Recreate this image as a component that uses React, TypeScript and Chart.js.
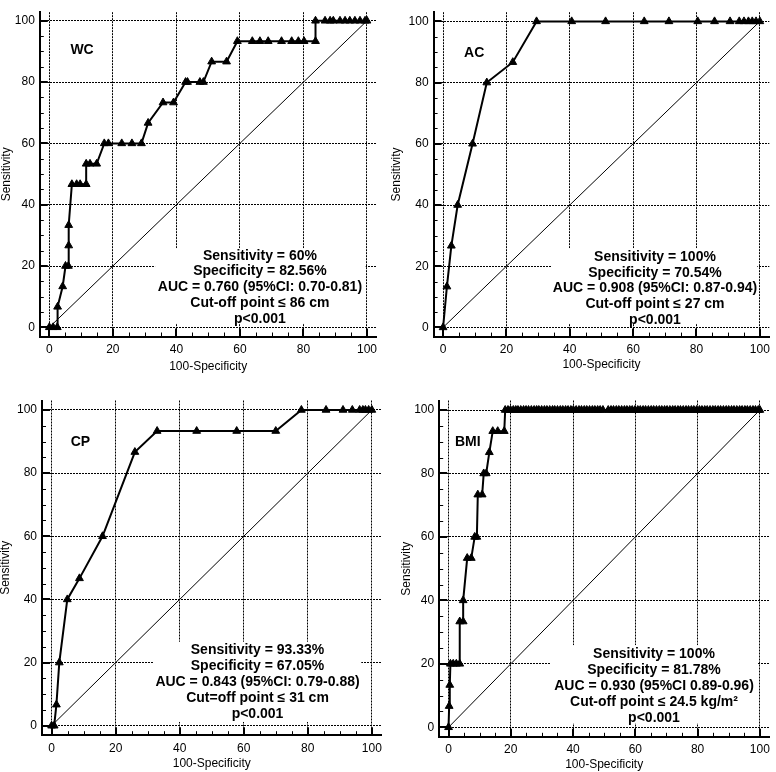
import React, { useEffect, useRef } from "react";
import { Chart, registerables } from "chart.js";

Chart.register(...registerables);

const FONT = "'Liberation Sans', Arial, Helvetica, sans-serif";

// tick values
const majorTicks = [0, 20, 40, 60, 80, 100];
const minorTicks = [5, 10, 15, 25, 30, 35, 45, 50, 55, 65, 70, 75, 85, 90, 95];

// WC
const wcFpr = [0, 1.2, 2.5, 2.6, 4.2, 5.1, 6.0, 6.1, 6.1, 7.1, 8.6, 9.7, 11.6, 11.6, 12.8, 14.9, 17.3, 18.6, 22.8, 26.0, 29.0, 31.1, 35.8, 39.1, 42.9, 43.5, 47.4, 48.5, 51.1, 55.8, 59.2, 63.9, 66.3, 68.9, 73.1, 76.3, 78.4, 80.2, 83.8, 83.8, 86.8, 88.4, 89.4, 91.5, 93.1, 94.6, 96.2, 97.8, 99.4, 100];
const wcSens = [0, 0, 0, 6.67, 13.33, 20, 20, 26.67, 33.33, 46.67, 46.67, 46.67, 46.67, 53.33, 53.33, 53.33, 60, 60, 60, 60, 60, 66.67, 73.33, 73.33, 80, 80, 80, 80, 86.67, 86.67, 93.33, 93.33, 93.33, 93.33, 93.33, 93.33, 93.33, 93.33, 93.33, 100, 100, 100, 100, 100, 100, 100, 100, 100, 100, 100];

// AC
const acFpr = [0, 1.2, 2.6, 4.6, 9.3, 13.8, 22.0, 29.5, 40.6, 51.3, 63.5, 71.3, 80.4, 85.7, 90.6, 93.5, 95.0, 96.4, 97.6, 98.8, 100];
const acSens = [0, 13.33, 26.67, 40, 60, 80, 86.67, 100, 100, 100, 100, 100, 100, 100, 100, 100, 100, 100, 100, 100, 100];

// CP
const cpFpr = [0, 0.8, 1.5, 2.4, 4.9, 8.7, 15.9, 26.0, 32.95, 45.3, 57.8, 70.0, 78.0, 85.7, 91.0, 93.9, 96.2, 97.2, 98.0, 99.0, 100];
const cpSens = [0, 0, 6.67, 20, 40, 46.67, 60, 86.67, 93.33, 93.33, 93.33, 93.33, 100, 100, 100, 100, 100, 100, 100, 100, 100];

// BMI (rising part, then the plateau at 100)
const bmiFpr = [0, 0.2, 0.4, 0.6, 1.5, 2.5, 3.6, 3.6, 4.7, 4.7, 6.0, 7.3, 8.4, 9.1, 9.4, 10.8, 11.3, 12.1, 13.1, 14.2, 15.8, 17.9];
const bmiSens = [0, 6.67, 13.33, 20, 20, 20, 20, 33.33, 33.33, 40, 53.33, 53.33, 60, 60, 73.33, 73.33, 80, 80, 86.67, 93.33, 93.33, 93.33];
const bmiPlateauFpr = [18.2, 19.1, 19.9, 20.8, 21.6, 22.3, 23.2, 24.1, 24.9, 25.7, 26.6, 27.5, 28.3, 29.0, 29.9, 30.8, 31.6, 32.5, 33.4, 34.1, 35.0, 35.9, 36.7, 37.6, 38.4, 39.3, 40.1, 41.0, 41.9, 42.7, 43.6, 44.4, 45.3, 46.2, 47.0, 47.9, 48.7, 49.6, 51.3, 52.2, 53.0, 53.9, 54.7, 55.6, 56.5, 57.3, 58.2, 59.0, 59.9, 60.8, 61.6, 62.5, 63.3, 64.2, 65.1, 65.9, 66.8, 67.7, 68.5, 69.4, 70.2, 71.1, 72.0, 72.8, 73.7, 74.5, 75.4, 76.3, 77.1, 78.0, 78.8, 79.7, 80.6, 81.4, 82.3, 83.1, 84.0, 84.9, 85.7, 86.6, 87.4, 88.3, 89.2, 90.0, 90.9, 91.7, 92.6, 93.5, 94.3, 95.2, 96.0, 96.9, 97.8, 98.6, 99.5, 100];
const bmiPlateauSens = 100;

const diagonal = [0, 100];

const wcText = ["Sensitivity = 60%", "Specificity = 82.56%", "AUC = 0.760 (95%CI: 0.70-0.81)", "Cut-off point \u2264 86 cm", "p<0.001"];
const acText = ["Sensitivity = 100%", "Specificity = 70.54%", "AUC = 0.908 (95%CI: 0.87-0.94)", "Cut-off point \u2264 27 cm", "p<0.001"];
const cpText = ["Sensitivity = 93.33%", "Specificity = 67.05%", "AUC = 0.843 (95%CI: 0.79-0.88)", "Cut=off point \u2264 31 cm", "p<0.001"];
const bmiText = ["Sensitivity = 100%", "Specificity = 81.78%", "AUC = 0.930 (95%CI 0.89-0.96)", "Cut-off point \u2264 24.5 kg/m\u00B2", "p<0.001"];

const xTitle = "100-Specificity";
const yTitle = "Sensitivity";

type PanelCfg = {
  name: string;
  points: { x: number; y: number }[];
  text: string[];
  left: number; top: number; width: number; height: number;
  ca: { l: number; r: number; t: number; b: number };
  xTitleY: number;
  yMax: number;
  box: [number, number, number, number];
  textX: number; textY: number; textGap: number;
  labelX: number; labelY: number;
};

const zip = (xs: number[], ys: number[]) => xs.map((x, i) => ({ x, y: ys[i] }));

const panels: PanelCfg[] = [
  {
    name: "WC", points: zip(wcFpr, wcSens), text: wcText,
    left: -1, top: 0, width: 388, height: 380,
    ca: { l: 39.8, r: 376.5, t: 0, b: 336.5 }, xTitleY: 366.7, yMax: 102.8,
    box: [33.3, 99.6, 1.2, 25.8], textX: 66.3, textY: 23.3, textGap: 15.75, labelX: 10.3, labelY: 90.3,
  },
  {
    name: "AC", points: zip(acFpr, acSens), text: acText,
    left: 389, top: 0, width: 387, height: 380,
    ca: { l: 433.6, r: 775.7, t: 6.7, b: 336.6 }, xTitleY: 365, yMax: 103,
    box: [34.1, 99.2, 1.2, 25.9], textX: 66.9, textY: 22.9, textGap: 15.65, labelX: 9.8, labelY: 89.7,
  },
  {
    name: "CP", points: zip(cpFpr, cpSens), text: cpText,
    left: -2, top: 385, width: 390, height: 387,
    ca: { l: 42, r: 385.4, t: 400.5, b: 735.2 }, xTitleY: 764, yMax: 103,
    box: [31.9, 96.7, 1.2, 26.6], textX: 64.3, textY: 23.9, textGap: 16, labelX: 9, labelY: 89.8,
  },
  {
    name: "BMI",
    points: zip(bmiFpr, bmiSens).concat(bmiPlateauFpr.map((x) => ({ x, y: bmiPlateauSens }))),
    text: bmiText,
    left: 399, top: 385, width: 377, height: 387,
    ca: { l: 439.2, r: 773.5, t: 400.5, b: 736.8 }, xTitleY: 765, yMax: 103,
    box: [32.9, 99.3, 1.2, 25.9], textX: 66, textY: 23.2, textGap: 16, labelX: 6.2, labelY: 89.8,
  },
];

function makeDecor(p: PanelCfg) {
  return {
    id: "decor" + p.name,
    beforeDatasetsDraw(chart: any) {
      const { ctx, chartArea } = chart;
      const x = chart.scales.x;
      const y = chart.scales.y;
      ctx.save();
      // white box behind the statistics text
      const bx1 = x.getPixelForValue(p.box[0]);
      const bx2 = x.getPixelForValue(p.box[1]);
      const by1 = y.getPixelForValue(p.box[3]);
      const by2 = y.getPixelForValue(p.box[2]);
      ctx.fillStyle = "#fff";
      ctx.fillRect(bx1, by1, bx2 - bx1, by2 - by1);
      // inward tick marks
      ctx.strokeStyle = "#000";
      const drawTicks = (vals: number[], len: number, w: number) => {
        ctx.lineWidth = w;
        const off = w % 2 === 1 ? 0.5 : 0;
        vals.forEach((v) => {
          const px = Math.round(x.getPixelForValue(v)) + off;
          ctx.beginPath();
          ctx.moveTo(px, chartArea.bottom);
          ctx.lineTo(px, chartArea.bottom - len);
          ctx.stroke();
          const py = Math.round(y.getPixelForValue(v)) + off;
          ctx.beginPath();
          ctx.moveTo(chartArea.left, py);
          ctx.lineTo(chartArea.left + len, py);
          ctx.stroke();
        });
      };
      drawTicks(minorTicks, 4, 1);
      drawTicks(majorTicks, 8, 2);
      // texts
      ctx.fillStyle = "#000";
      ctx.font = `bold 14px ${FONT}`;
      ctx.textAlign = "center";
      ctx.textBaseline = "middle";
      const tx = x.getPixelForValue(p.textX);
      const ty0 = y.getPixelForValue(p.textY);
      p.text.forEach((t, i) => ctx.fillText(t, tx, ty0 + i * p.textGap));
      ctx.fillText(p.name, x.getPixelForValue(p.labelX), y.getPixelForValue(p.labelY));
      ctx.restore();
    },
  };
}

function RocPanel({ p }: { p: PanelCfg }) {
  const ref = useRef<HTMLCanvasElement>(null);
  useEffect(() => {
    if (!ref.current) return;
    const yAxisWidth = p.ca.l - p.left;
    const padRight = p.left + p.width - p.ca.r;
    const padTop = p.ca.t - p.top;
    const titleHalf = 7.2;
    const xAxisHeight = p.xTitleY + titleHalf - p.ca.b;
    const padBottom = p.top + p.height - (p.xTitleY + titleHalf);
    const tickFont = { size: 12, family: FONT };
    const common = {
      type: "linear" as const,
      min: -3,
      grid: { color: "#000", lineWidth: 1, drawTicks: false },
      border: { display: true, color: "#000", width: 2, dash: [2, 1] },
      afterBuildTicks: (s: any) => {
        s.ticks = majorTicks.map((v) => ({ value: v }));
      },
    };
    const chart = new Chart(ref.current, {
      type: "line",
      data: {
        datasets: [
          {
            data: p.points,
            borderColor: "#000",
            backgroundColor: "#000",
            borderWidth: 2,
            pointStyle: "triangle",
            pointRadius: 4.5,
            pointBorderWidth: 1,
            pointBackgroundColor: "#000",
            pointBorderColor: "#000",
            tension: 0,
            clip: false,
          },
          {
            data: diagonal.map((v) => ({ x: v, y: v })),
            borderColor: "#000",
            borderWidth: 1,
            pointRadius: 0,
            tension: 0,
          },
        ],
      },
      options: {
        responsive: false,
        animation: false,
        events: [],
        layout: { padding: { left: 0, right: padRight, top: padTop, bottom: padBottom } },
        plugins: { legend: { display: false }, tooltip: { enabled: false } },
        scales: {
          x: {
            ...common,
            max: 103,
            position: "bottom",
            afterFit: (s: any) => {
              s.height = xAxisHeight;
            },
            ticks: { color: "#000", font: tickFont, padding: 6, maxRotation: 0, autoSkip: false },
            title: { display: true, text: xTitle, color: "#000", font: tickFont, padding: 0 },
          },
          y: {
            ...common,
            max: p.yMax,
            position: "left",
            afterFit: (s: any) => {
              s.width = yAxisWidth;
            },
            ticks: { color: "#000", font: tickFont, padding: 5, autoSkip: false },
            title: { display: true, text: yTitle, color: "#000", font: tickFont, padding: 0 },
          },
        },
      } as any,
      plugins: [makeDecor(p)],
    });
    return () => chart.destroy();
  }, []);
  return (
    <canvas
      ref={ref}
      width={p.width}
      height={p.height}
      style={{ position: "absolute", left: p.left, top: p.top, width: p.width, height: p.height }}
    />
  );
}

export default function App() {
  return (
    <div style={{ position: "absolute", left: 0, top: 0, width: 776, height: 772, background: "#fff", overflow: "hidden" }}>
      {panels.map((p) => (
        <RocPanel key={p.name} p={p} />
      ))}
    </div>
  );
}
